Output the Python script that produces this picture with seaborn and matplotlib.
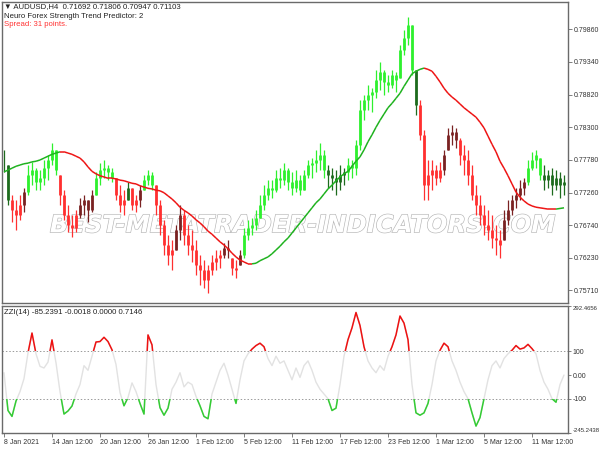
import numpy as np
import pandas as pd
import matplotlib
matplotlib.use("Agg")
import matplotlib.pyplot as plt
import matplotlib.patheffects as pe
from matplotlib.collections import LineCollection
from matplotlib.patches import Rectangle
import seaborn as sns

# AUDUSD H4 bars
high = [0.7794, 0.7770, 0.7722, 0.7714, 0.7722, 0.7733, 0.7770, 0.7775, 0.7765, 0.7762,
        0.7778, 0.7786, 0.7805, 0.7794, 0.7754, 0.7730, 0.7706, 0.7691, 0.7698, 0.7718,
        0.7722, 0.7714, 0.7730, 0.7759, 0.7773, 0.7778, 0.7770, 0.7765, 0.7749, 0.7738,
        0.7730, 0.7743, 0.7733, 0.7722, 0.7738, 0.7754, 0.7762, 0.7759, 0.7738, 0.7714,
        0.7683, 0.7659, 0.7651, 0.7675, 0.7706, 0.7698, 0.7675, 0.7667, 0.7651, 0.7627,
        0.7619, 0.7611, 0.7627, 0.7635, 0.7635, 0.7646, 0.7651, 0.7622, 0.7619, 0.7635,
        0.7670, 0.7683, 0.7686, 0.7698, 0.7722, 0.7738, 0.7746, 0.7746, 0.7762, 0.7765,
        0.7773, 0.7765, 0.7759, 0.7762, 0.7754, 0.7762, 0.7778, 0.7781, 0.7794, 0.7805,
        0.7794, 0.7770, 0.7765, 0.7762, 0.7770, 0.7765, 0.7781, 0.7778, 0.7810, 0.7873,
        0.7881, 0.7897, 0.7892, 0.7921, 0.7934, 0.7921, 0.7913, 0.7921, 0.7918, 0.7961,
        0.7984, 0.8005, 0.7992, 0.7921, 0.7873, 0.7826, 0.7778, 0.7778, 0.7770, 0.7775,
        0.7794, 0.7829, 0.7833, 0.7829, 0.7813, 0.7802, 0.7794, 0.7770, 0.7738, 0.7722,
        0.7706, 0.7698, 0.7691, 0.7675, 0.7667, 0.7698, 0.7714, 0.7722, 0.7733, 0.7746,
        0.7749, 0.7778, 0.7791, 0.7794, 0.7781, 0.7770, 0.7762, 0.7765, 0.7762, 0.7759, 0.7754]
low = [0.7759, 0.7706, 0.7679, 0.7667, 0.7683, 0.7695, 0.7722, 0.7738, 0.7730, 0.7730,
       0.7738, 0.7746, 0.7770, 0.7754, 0.7706, 0.7683, 0.7664, 0.7656, 0.7664, 0.7686,
       0.7691, 0.7679, 0.7695, 0.7722, 0.7738, 0.7749, 0.7746, 0.7743, 0.7714, 0.7695,
       0.7691, 0.7714, 0.7698, 0.7695, 0.7703, 0.7730, 0.7738, 0.7730, 0.7691, 0.7659,
       0.7627, 0.7611, 0.7603, 0.7635, 0.7651, 0.7643, 0.7627, 0.7616, 0.7595, 0.7579,
       0.7575, 0.7567, 0.7595, 0.7603, 0.7606, 0.7622, 0.7622, 0.7595, 0.7591, 0.7611,
       0.7622, 0.7651, 0.7659, 0.7667, 0.7686, 0.7698, 0.7714, 0.7718, 0.7727, 0.7733,
       0.7738, 0.7730, 0.7722, 0.7727, 0.7722, 0.7730, 0.7749, 0.7749, 0.7759, 0.7762,
       0.7749, 0.7733, 0.7730, 0.7722, 0.7730, 0.7738, 0.7746, 0.7749, 0.7754, 0.7794,
       0.7841, 0.7857, 0.7854, 0.7876, 0.7889, 0.7881, 0.7886, 0.7892, 0.7886, 0.7908,
       0.7945, 0.7961, 0.7913, 0.7849, 0.7810, 0.7714, 0.7714, 0.7730, 0.7738, 0.7743,
       0.7754, 0.7794, 0.7802, 0.7797, 0.7770, 0.7754, 0.7738, 0.7714, 0.7691, 0.7675,
       0.7659, 0.7651, 0.7638, 0.7627, 0.7622, 0.7651, 0.7675, 0.7691, 0.7702, 0.7714,
       0.7722, 0.7738, 0.7762, 0.7765, 0.7746, 0.7730, 0.7733, 0.7722, 0.7730, 0.7718, 0.7722]
close = [0.7770, 0.7714, 0.7698, 0.7691, 0.7706, 0.7727, 0.7754, 0.7762, 0.7743, 0.7749,
         0.7765, 0.7778, 0.7794, 0.7762, 0.7722, 0.7691, 0.7675, 0.7670, 0.7691, 0.7706,
         0.7714, 0.7698, 0.7722, 0.7749, 0.7762, 0.7765, 0.7759, 0.7749, 0.7722, 0.7706,
         0.7714, 0.7733, 0.7706, 0.7714, 0.7730, 0.7746, 0.7754, 0.7738, 0.7706, 0.7675,
         0.7643, 0.7627, 0.7635, 0.7667, 0.7691, 0.7659, 0.7643, 0.7635, 0.7611, 0.7603,
         0.7587, 0.7603, 0.7616, 0.7622, 0.7627, 0.7638, 0.7635, 0.7606, 0.7603, 0.7627,
         0.7659, 0.7670, 0.7675, 0.7686, 0.7706, 0.7722, 0.7733, 0.7730, 0.7749, 0.7746,
         0.7762, 0.7743, 0.7733, 0.7746, 0.7730, 0.7754, 0.7770, 0.7773, 0.7778, 0.7786,
         0.7762, 0.7754, 0.7749, 0.7743, 0.7754, 0.7759, 0.7770, 0.7765, 0.7802, 0.7857,
         0.7873, 0.7881, 0.7886, 0.7905, 0.7918, 0.7902, 0.7897, 0.7913, 0.7905, 0.7953,
         0.7972, 0.7992, 0.7921, 0.7865, 0.7818, 0.7738, 0.7754, 0.7762, 0.7749, 0.7762,
         0.7786, 0.7818, 0.7822, 0.7810, 0.7786, 0.7778, 0.7754, 0.7722, 0.7706, 0.7691,
         0.7675, 0.7667, 0.7654, 0.7651, 0.7643, 0.7683, 0.7698, 0.7714, 0.7722, 0.7733,
         0.7743, 0.7765, 0.7778, 0.7786, 0.7754, 0.7746, 0.7754, 0.7738, 0.7749, 0.7738, 0.7743]

# trend predictor state per bar: U strong up, u weak up, D strong down, d weak down
trend = ("uu" "DDD" "d" "UUUUUUUU" "DDDDD" "dddd" "UUUUU" "DDD" "u" "DD" "d" "UUU"
         "DDDDD" "dd" "DDDDDDDDDD" "dd" "DD" "d" "UUUUUUUUUUUUUUUUUUUUU" "uuuuu"
         "UUUUUUUUUUUUUUUUU" "u" "DDDDDD" "dddd" "DDDDDDDDDDD" "dddddd" "UUUU" "uuuuuu")

# trend line
ma = [0.7759, 0.7762, 0.7765, 0.7768, 0.7770, 0.7772, 0.7773, 0.7775, 0.7776, 0.7778,
      0.7781, 0.7784, 0.7787, 0.7789, 0.7791, 0.7791, 0.7789, 0.7787, 0.7784, 0.7781,
      0.7775, 0.7767, 0.7760, 0.7756, 0.7753, 0.7751, 0.7749, 0.7749, 0.7748, 0.7746,
      0.7745, 0.7743, 0.7741, 0.7740, 0.7737, 0.7735, 0.7733, 0.7732, 0.7730, 0.7729,
      0.7726, 0.7721, 0.7716, 0.7710, 0.7703, 0.7698, 0.7694, 0.7689, 0.7683, 0.7678,
      0.7672, 0.7665, 0.7660, 0.7654, 0.7648, 0.7643, 0.7637, 0.7630, 0.7624, 0.7619,
      0.7616, 0.7613, 0.7613, 0.7614, 0.7618, 0.7621, 0.7624, 0.7629, 0.7635, 0.7641,
      0.7648, 0.7654, 0.7662, 0.7670, 0.7678, 0.7686, 0.7694, 0.7702, 0.7710, 0.7716,
      0.7724, 0.7732, 0.7738, 0.7745, 0.7751, 0.7756, 0.7760, 0.7768, 0.7776, 0.7783,
      0.7794, 0.7807, 0.7818, 0.7830, 0.7841, 0.7851, 0.7861, 0.7868, 0.7876, 0.7884,
      0.7895, 0.7905, 0.7915, 0.7919, 0.7922, 0.7924, 0.7922, 0.7919, 0.7911, 0.7902,
      0.7892, 0.7884, 0.7878, 0.7873, 0.7867, 0.7861, 0.7856, 0.7851, 0.7846, 0.7838,
      0.7829, 0.7816, 0.7803, 0.7791, 0.7776, 0.7765, 0.7753, 0.7740, 0.7727, 0.7719,
      0.7713, 0.7708, 0.7705, 0.7703, 0.7702, 0.7701, 0.7700, 0.7700, 0.7700, 0.7701, 0.7702]

# ZZI(14) oscillator
zzi = [10, -150, -175, -110, -70, -15, 94, 178, 90, 37,
       30, 55, 149, 52, -70, -165, -152, -131, -80, -40,
       40, 20, 80, 140, 142, 160, 142, 107, 45, -74,
       -130, -95, -33, -70, -120, -165, 170, 128, -40, -138,
       -170, -140, -60, -30, 10, -50, -30, -40, -90, -130,
       -175, -185, -80, -30, 20, 50, 0, -60, -120, -20,
       60, 90, 110, 125, 135, 120, 70, 40, 80, 50,
       60, 20, -20, 30, -10, 40, 60, 20, -30, -60,
       -80, -100, -150, -140, -40, 80, 150, 200, 265, 210,
       120, 60, 30, 10, 40, 20, 80, 120, 170, 250,
       220, 150, -40, -160, -170, -160, -120, -40, 60, 105,
       135, 120, 60, 20, -30, -70, -100, -160, -216, -180,
       -100, -20, 40, 60, 30, 70, 90, 105, 125, 110,
       115, 130, 112, 90, 20, -30, -60, -100, -115, -40,
       0]

price_ticks = [0.79860, 0.79340, 0.78820, 0.78300, 0.77780, 0.77260, 0.76740, 0.76230, 0.75710]
zzi_ticks = [292.4656, 100, 0, -100, -245.2438]
zzi_labels = ["292.4656", "100", "0.00", "-100", "-245.2438"]
date_pos = [0, 12, 24, 36, 48, 60, 72, 84, 96, 108, 120, 132]
date_labels = ["8 Jan 2021", "14 Jan 12:00", "20 Jan 12:00", "26 Jan 12:00", "1 Feb 12:00",
               "5 Feb 12:00", "11 Feb 12:00", "17 Feb 12:00", "23 Feb 12:00", "1 Mar 12:00",
               "5 Mar 12:00", "11 Mar 12:00"]

df = pd.DataFrame({"high": high, "low": low, "close": close, "trend": list(trend), "ma": ma, "zzi": zzi})
df["bar"] = np.arange(len(df))
df["open"] = df["close"].shift(1).fillna(df["close"])
df["open"] = df["open"].clip(df["low"], df["high"])

sns.set_style("white")
plt.rcParams["font.family"] = ["Liberation Sans", "DejaVu Sans"]

trend_colors = {"U": "#2ef02e", "u": "#1d6b1d", "D": "#ff3030", "d": "#7a2222"}
axis_col = "#6a6a6a"

fig = plt.figure(figsize=(6, 4.5), dpi=100)
ax1 = fig.add_axes([2 / 600, 1 - 303 / 450, 566 / 600, 301 / 450])
ax2 = fig.add_axes([2 / 600, 1 - 433 / 450, 566 / 600, 127 / 450])

# ---- price panel
cols = df["trend"].map(trend_colors)
ax1.vlines(df["bar"], df["low"], df["high"], colors=cols, lw=0.9, zorder=3)
ax1.vlines(df["bar"], df["open"], df["close"], colors=cols, lw=2.0, zorder=3)

segs = [[(i, ma[i]), (i + 1, ma[i + 1])] for i in range(len(ma) - 1)]
seg_cols = ["#1fb21f" if ma[i + 1] > ma[i] else "#ee1515" for i in range(len(ma) - 1)]
ax1.add_collection(LineCollection(segs, colors=seg_cols, linewidths=1.1, zorder=4))

ax1.text(0.530, 0.258, "BEST-METATRADER-INDICATORS.COM", transform=ax1.transAxes,
         ha="center", va="center", fontsize=17.5, fontweight="bold", style="italic",
         family="DejaVu Sans", color="white", zorder=2,
         path_effects=[pe.Stroke(linewidth=0.9, foreground="#b5b5b5"), pe.Normal()])

ax1.set_xlim(-0.5, 141)
ax1.set_ylim(0.75508, 0.8029)
ax1.yaxis.tick_right()
ax1.set_yticks(price_ticks)
ax1.set_yticklabels([f"{v:.5f}" for v in price_ticks])
ax1.set_xticks([])

# ---- oscillator panel
ax2.axhline(100, color="#9a9a9a", lw=0.7, ls=(0, (1.5, 2)), zorder=1)
ax2.axhline(-100, color="#9a9a9a", lw=0.7, ls=(0, (1.5, 2)), zorder=1)
sns.lineplot(data=df, x="bar", y="zzi", ax=ax2, color="#e2e2e2", lw=1.0, zorder=2)
up_line, = ax2.plot(df["bar"], df["zzi"], color="#ee1111", lw=1.1, zorder=3)
dn_line, = ax2.plot(df["bar"], df["zzi"], color="#33cc33", lw=1.1, zorder=3)
up_line.set_clip_path(Rectangle((-5, 100), 200, 400, transform=ax2.transData))
dn_line.set_clip_path(Rectangle((-5, -500), 200, 400, transform=ax2.transData))

ax2.set_xlim(-0.5, 141)
ax2.set_ylim(-245.2438, 292.4656)
ax2.yaxis.tick_right()
ax2.set_yticks(zzi_ticks)
ax2.set_yticklabels(zzi_labels)
ax2.set_xticks(date_pos)
ax2.set_xticklabels(date_labels, ha="left")
ax2.set_xlabel("")
ax2.set_ylabel("")

for ax in (ax1, ax2):
    ax.set_facecolor("white")
    for s in ax.spines.values():
        s.set_color(axis_col)
        s.set_linewidth(1.0)
    ax.tick_params(axis="both", direction="out", length=3, width=0.6, color=axis_col,
                   labelsize=5, labelcolor="#333333", pad=1.5)
    ax.tick_params(axis="y", left=False, right=True)
    ax.tick_params(axis="x", bottom=(ax is ax2), top=False)
ax2.tick_params(axis="y", pad=0.6, length=2.5)

labs = ax2.get_yticklabels()
labs[0].set_va("top")
labs[-1].set_va("bottom")
for lab in (labs[0], labs[-1]):
    lab.set_fontsize(4.3)

# ---- header texts
fig.text(4 / 600, 1 - 7 / 450, "\u25bc AUDUSD,H4  0.71692 0.71806 0.70947 0.71103",
         fontsize=5.6, color="#222222", va="center", ha="left")
fig.text(4 / 600, 1 - 16 / 450, "Neuro Forex Strength Trend Predictor: 2",
         fontsize=5.6, color="#222222", va="center", ha="left")
fig.text(4 / 600, 1 - 25 / 450, "Spread: 31 points.",
         fontsize=5.6, color="#ff3333", va="center", ha="left")
fig.text(4 / 600, 1 - 313 / 450, "ZZI(14) -85.2391 -0.0018 0.0000 0.7146",
         fontsize=5.6, color="#222222", va="center", ha="left")

fig.savefig("out.png", dpi=100, facecolor="white")
